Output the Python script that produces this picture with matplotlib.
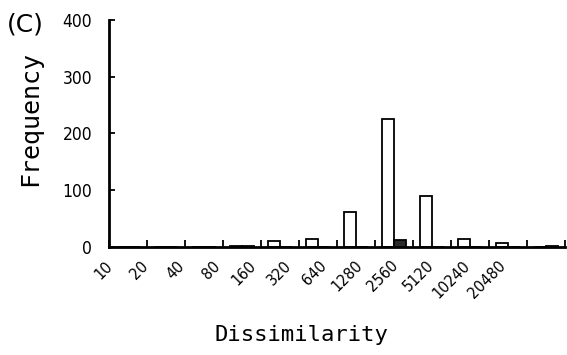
import numpy as np
import matplotlib
matplotlib.use("Agg")
import matplotlib.pyplot as plt

# Dissimilarity bins (lower edges) and counts for the two series
bins = ['10', '20', '40', '80', '160', '320', '640', '1280', '2560', '5120', '10240', '20480']
open_counts = [0, 0, 0, 2, 10, 13, 62, 226, 90, 13, 7, 0]
filled_counts = [0, 0, 0, 1, 0, 0, 0, 12, 0, 0, 0, 2]
yticks = [0, 100, 200, 300, 400]

fig = plt.figure(figsize=(5.67, 3.55), dpi=100)
ax = fig.add_axes([0.192, 0.305, 0.804, 0.639])

x = np.arange(len(bins))
w = 0.31
ax.bar(x + 0.5 - w / 2, open_counts, width=w, color='white', edgecolor='black', linewidth=1.3)
ax.bar(x + 0.5 + w / 2, filled_counts, width=w, color='#2a2a2a', edgecolor='black', linewidth=1.3)

ax.set_xlim(0, len(bins))
ax.set_ylim(0, 400)
ax.set_yticks(yticks)
ax.set_yticklabels([str(v) for v in yticks], fontsize=12.5, fontstretch='condensed')

# category boundary ticks, labels near bin lower edges
ax.set_xticks(np.arange(len(bins) + 1))
ax.set_xticklabels([''] * (len(bins) + 1))
ax.tick_params(axis='x', direction='in', length=5, width=1.3)
ax.tick_params(axis='y', direction='in', length=4, width=1.3, pad=12)
for i, lab in enumerate(bins):
    ax.text(0.94 * i - 0.1, -20, lab, rotation=45, ha='right', va='top',
            rotation_mode='anchor', fontsize=11.5, fontstretch='condensed', clip_on=False)

for s in ['top', 'right']:
    ax.spines[s].set_visible(False)
for s in ['left', 'bottom']:
    ax.spines[s].set_linewidth(2)

fig.text(0.012, 0.93, '(C)', fontsize=18, ha='left', va='center')
fig.text(0.053, 0.665, 'Frequency', fontsize=18, rotation=90, ha='center', va='center',
         family='DejaVu Sans Mono')
fig.text(0.531, 0.057, 'Dissimilarity', fontsize=16, ha='center', va='center',
         family='DejaVu Sans Mono')

plt.savefig('out.png', dpi=100)
